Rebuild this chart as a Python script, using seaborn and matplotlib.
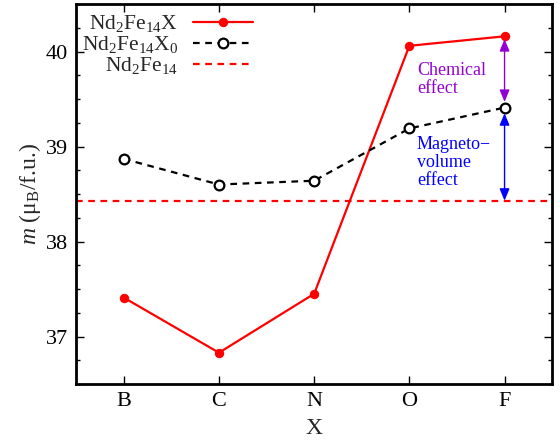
import matplotlib
matplotlib.use("Agg")
import matplotlib.pyplot as plt
from matplotlib.ticker import MultipleLocator
import seaborn as sns
import pandas as pd

# Magnetic moment of Nd2Fe14X versus interstitial element X
elements = ["B", "C", "N", "O", "F"]
m_full = [37.41, 36.83, 37.45, 40.06, 40.16]      # Nd2Fe14X
m_volume = [38.87, 38.60, 38.64, 39.19, 39.41]    # Nd2Fe14X0 (lattice expansion only)
m_parent = 38.43                                  # Nd2Fe14

sns.set_theme(style="ticks")
plt.rcParams["font.family"] = ["Liberation Serif", "DejaVu Serif"]
plt.rcParams["mathtext.fontset"] = "custom"
plt.rcParams["mathtext.rm"] = "Liberation Serif"
plt.rcParams["mathtext.it"] = "Liberation Serif:italic"

df = pd.DataFrame({
    "pos": list(range(len(elements))) * 2,
    "m": m_full + m_volume,
    "series": ["full"] * len(elements) + ["vol"] * len(elements),
})

fig, ax = plt.subplots(figsize=(5.6, 4.44), dpi=100)
fig.subplots_adjust(left=0.136, right=0.986, top=0.991, bottom=0.135)

sns.lineplot(data=df[df.series == "full"], x="pos", y="m", ax=ax,
             color="#ff0000", lw=1.6, marker="o", markersize=6,
             markeredgecolor="#ff0000", label=r"Nd$_2$Fe$_{14}$X")
sns.lineplot(data=df[df.series == "vol"], x="pos", y="m", ax=ax,
             color="black", lw=1.6, ls=(0, (3, 2.5)), marker="o", markersize=7,
             markerfacecolor="white", markeredgecolor="black", markeredgewidth=1.6,
             label=r"Nd$_2$Fe$_{14}$X$_0$")
ax.axhline(m_parent, color="#ff0000", lw=1.6, ls=(0, (3, 2.5)),
           label=r"Nd$_2$Fe$_{14}$")

# Decomposition of the change at X = F
xf = len(elements) - 1
ax.annotate("", xy=(xf, m_full[-1] - 0.03), xytext=(xf, m_volume[-1] + 0.06),
            arrowprops=dict(arrowstyle="<|-|>,head_length=0.6,head_width=0.25",
                            color="#9400d3", lw=1.0,
                            mutation_scale=12, shrinkA=0, shrinkB=0))
ax.annotate("", xy=(xf, m_volume[-1] - 0.06), xytext=(xf, m_parent + 0.0),
            arrowprops=dict(arrowstyle="<|-|>,head_length=0.6,head_width=0.25",
                            color="#0000ff", lw=1.0,
                            mutation_scale=12, shrinkA=0, shrinkB=0))
ax.text(3.08, 39.71, "Chemical\neffect", color="#9400d3", fontsize=13,
        ha="left", va="center", linespacing=1.08)
ax.text(3.08, 38.83, "Magneto\u2212\nvolume\neffect", color="#0000ff", fontsize=13,
        ha="left", va="center", linespacing=1.08)

ax.set_xlim(-0.5, 4.5)
ax.set_ylim(36.5, 40.5)
ax.set_xticks(range(len(elements)))
ax.set_xticklabels(elements)
ax.yaxis.set_major_locator(MultipleLocator(1))
ax.yaxis.set_minor_locator(MultipleLocator(0.25))
ax.tick_params(axis="both", which="both", direction="in", top=True, right=True,
               labelsize=16, colors="black", width=1.0)
ax.tick_params(axis="both", which="major", length=6, pad=6)
ax.tick_params(axis="both", which="minor", length=3)
ax.tick_params(axis="x", which="minor", bottom=False, top=False)
for s in ax.spines.values():
    s.set_linewidth(2.0)
    s.set_color("black")

ax.set_xlabel("X", fontsize=17, labelpad=5)
ax.set_ylabel(r"$m$ ($\mathregular{\mu_B}$/f.u.)", fontsize=17, labelpad=2)

leg = ax.legend(loc="upper left", markerfirst=False, frameon=False, fontsize=15.5,
                handlelength=2.8, handletextpad=0.7, labelspacing=0.0,
                borderaxespad=0.0, borderpad=0.25, bbox_to_anchor=(0.0, 0.99))

fig.savefig("out.png", dpi=100)
